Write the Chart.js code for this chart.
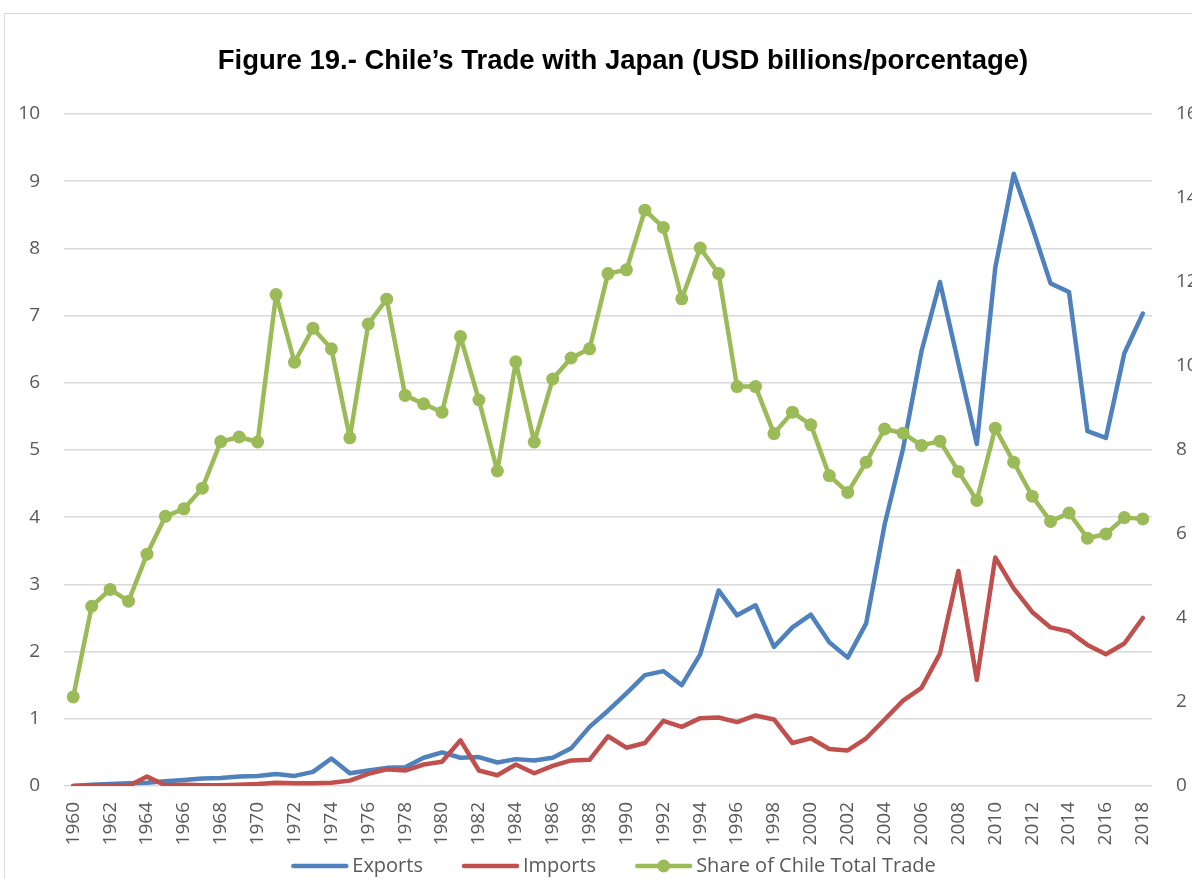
<!DOCTYPE html>
<html>
<head>
<meta charset="utf-8">
<script src="https://cdn.jsdelivr.net/npm/chart.js@4/dist/chart.umd.min.js"></script>
<style>
  html, body { margin: 0; padding: 0; overflow: hidden; background: #fff; }
  #marco { position: absolute; left: 4px; top: 13px; width: 1236px; height: 900px; border: 1px solid #d9d9d9; }
  #grafica { display: block; }
</style>
</head>
<body>
<div id="marco"><canvas id="grafica" width="1236" height="872"></canvas></div>
<script>
// Años (categorías del eje X)
const anios = ["1960","1961","1962","1963","1964","1965","1966","1967","1968","1969",
  "1970","1971","1972","1973","1974","1975","1976","1977","1978","1979",
  "1980","1981","1982","1983","1984","1985","1986","1987","1988","1989",
  "1990","1991","1992","1993","1994","1995","1996","1997","1998","1999",
  "2000","2001","2002","2003","2004","2005","2006","2007","2008","2009",
  "2010","2011","2012","2013","2014","2015","2016","2017","2018"];

// Exportaciones a Japón (USD miles de millones)
const exportaciones = [0.00,0.02,0.03,0.04,0.05,0.07,0.09,0.11,0.12,0.14,
  0.15,0.18,0.15,0.21,0.41,0.19,0.23,0.27,0.28,0.42,
  0.50,0.42,0.43,0.35,0.40,0.38,0.42,0.56,0.88,1.12,
  1.38,1.65,1.71,1.50,1.96,2.91,2.54,2.69,2.07,2.36,
  2.55,2.14,1.91,2.42,3.89,5.02,6.47,7.50,6.29,5.09,
  7.71,9.11,8.32,7.48,7.35,5.28,5.18,6.44,7.03];

// Importaciones desde Japón (USD miles de millones)
const importaciones = [0.00,0.01,0.01,0.00,0.14,0.01,0.02,0.01,0.01,0.02,
  0.03,0.05,0.04,0.04,0.05,0.08,0.18,0.25,0.23,0.32,
  0.36,0.68,0.23,0.16,0.32,0.19,0.30,0.38,0.39,0.74,
  0.57,0.64,0.97,0.88,1.01,1.02,0.95,1.05,0.99,0.64,
  0.71,0.55,0.53,0.71,0.99,1.27,1.46,1.97,3.20,1.58,
  3.40,2.94,2.59,2.36,2.30,2.10,1.96,2.12,2.50];

// Participación en el comercio total de Chile (%)
const participacion = [2.12,4.28,4.68,4.40,5.52,6.42,6.60,7.09,8.20,8.31,
  8.19,11.70,10.09,10.90,10.41,8.29,11.00,11.59,9.30,9.10,
  8.90,10.70,9.19,7.50,10.10,8.19,9.69,10.19,10.41,12.20,
  12.29,13.71,13.30,11.60,12.81,12.20,9.51,9.51,8.39,8.90,
  8.60,7.39,6.99,7.71,8.50,8.40,8.11,8.21,7.49,6.80,
  8.52,7.71,6.90,6.30,6.50,5.90,6.00,6.39,6.36];

const ticksIzq = [0,1,2,3,4,5,6,7,8,9,10];
const ticksDer = [0,2,4,6,8,10,12,14,16];

const AZUL = "#4f81bd";
const ROJO = "#c0504d";
const VERDE = "#9bbb59";
const GRIS = "#595959";

// Iconos de la leyenda: el hueco transparente a la izquierda separa los elementos
function icono(color, conPunto) {
  const c = document.createElement("canvas");
  c.width = 94; c.height = 16;
  const g = c.getContext("2d");
  g.strokeStyle = color;
  g.lineWidth = 4.5;
  g.lineCap = "round";
  g.beginPath(); g.moveTo(38, 8); g.lineTo(91, 8); g.stroke();
  if (conPunto) {
    g.fillStyle = color;
    g.beginPath(); g.arc(64.5, 8, 6.5, 0, Math.PI * 2); g.fill();
  }
  return c;
}
const iconos = [icono(AZUL, false), icono(ROJO, false), icono(VERDE, true)];

// La leyenda del original está algo corrida a la izquierda
const correrLeyenda = {
  id: "correrLeyenda",
  afterLayout(chart) {
    if (chart.legend) { chart.legend.left -= 24; chart.legend.right -= 24; }
  }
};

const ctx = document.getElementById("grafica").getContext("2d");
new Chart(ctx, {
  type: "line",
  data: {
    labels: anios,
    datasets: [
      { label: "Exports", data: exportaciones, borderColor: AZUL, backgroundColor: AZUL,
        borderWidth: 4.5, pointRadius: 0, tension: 0, yAxisID: "y", order: 3,
        borderJoinStyle: "round", borderCapStyle: "round" },
      { label: "Imports", data: importaciones, borderColor: ROJO, backgroundColor: ROJO,
        borderWidth: 4.5, pointRadius: 0, tension: 0, yAxisID: "y", order: 2,
        borderJoinStyle: "round", borderCapStyle: "round" },
      { label: "Share of Chile Total Trade", data: participacion, borderColor: VERDE, backgroundColor: VERDE,
        borderWidth: 4.5, pointRadius: 6.5, pointBorderWidth: 0, pointBackgroundColor: VERDE,
        tension: 0, yAxisID: "y2", order: 1, borderJoinStyle: "round", borderCapStyle: "round" }
    ]
  },
  plugins: [correrLeyenda],
  options: {
    responsive: false,
    animation: false,
    layout: { padding: 0 },
    plugins: {
      tooltip: { enabled: false },
      title: {
        display: true,
        text: "Figure 19.- Chile\u2019s Trade with Japan (USD billions/porcentage)",
        color: "#000",
        font: { family: "'Liberation Sans Narrow', 'Liberation Sans', sans-serif", size: 27.5, weight: "bold" },
        padding: { top: 31, bottom: 36 }
      },
      legend: {
        position: "bottom",
        labels: {
          usePointStyle: true,
          pointStyleWidth: 80,
          boxHeight: 16,
          padding: 10,
          color: GRIS,
          font: { family: "'Open Sans', sans-serif", size: 20 },
          generateLabels: chart => chart.data.datasets.map((ds, i) => ({
            text: ds.label,
            fillStyle: ds.borderColor,
            strokeStyle: ds.borderColor,
            lineWidth: 0,
            pointStyle: iconos[i],
            fontColor: GRIS,
            hidden: false,
            datasetIndex: i
          }))
        }
      }
    },
    scales: {
      x: {
        offset: true,
        grid: { display: false },
        border: { display: false },
        ticks: {
          autoSkip: false,
          minRotation: 90,
          maxRotation: 90,
          padding: 8,
          color: GRIS,
          font: { family: "'Open Sans', sans-serif", size: 19 },
          callback: function (v, i) { return i % 2 === 0 ? anios[i] : ""; }
        },
        afterFit: s => { s.height = 60; }
      },
      y: {
        position: "left",
        min: 0, max: 10,
        afterBuildTicks: s => { s.ticks = ticksIzq.map(v => ({ value: v })); },
        grid: { color: "#d9d9d9", lineWidth: 1.5, drawTicks: false },
        border: { display: false },
        ticks: { padding: 24, color: GRIS, font: { family: "'Open Sans', sans-serif", size: 19 } },
        afterFit: s => { s.width = 59; }
      },
      y2: {
        position: "right",
        min: 0, max: 16,
        afterBuildTicks: s => { s.ticks = ticksDer.map(v => ({ value: v })); },
        grid: { display: false, drawTicks: false },
        border: { display: false },
        ticks: { padding: 24, color: GRIS, font: { family: "'Open Sans', sans-serif", size: 19 } },
        afterFit: s => { s.width = 89; }
      }
    }
  }
});
</script>
</body>
</html>
